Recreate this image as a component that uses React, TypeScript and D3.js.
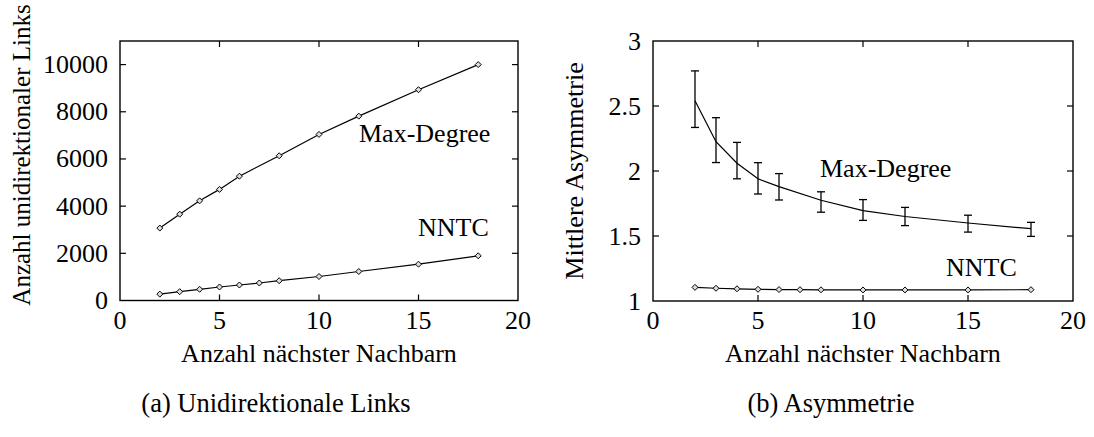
import React from "react";
import * as d3 from "d3";

// ---- data ----
const xMaxDegree = [2, 3, 4, 5, 6, 8, 10, 12, 15, 18];
const xNNTC = [2, 3, 4, 5, 6, 7, 8, 10, 12, 15, 18];

const linksMaxDegree = [3070, 3660, 4225, 4710, 5270, 6135, 7040, 7815, 8935, 10000];
const linksNNTC = [270, 373, 475, 572, 657, 742, 839, 1017, 1229, 1539, 1895];

const asymMaxDegree = [2.54, 2.225, 2.06, 1.94, 1.88, 1.775, 1.695, 1.65, 1.6, 1.556];
const asymMaxDegreeLow = [2.335, 2.065, 1.94, 1.823, 1.777, 1.683, 1.62, 1.58, 1.53, 1.497];
const asymMaxDegreeHigh = [2.77, 2.41, 2.22, 2.064, 1.98, 1.84, 1.78, 1.72, 1.66, 1.605];
const asymNNTC = [1.105, 1.098, 1.094, 1.09, 1.088, 1.087, 1.086, 1.085, 1.085, 1.085, 1.087];

const xTicks = [0, 5, 10, 15, 20];
const linksTicks = [0, 2000, 4000, 6000, 8000, 10000];
const asymTicks = [1, 1.5, 2, 2.5, 3];

const FONT = "Liberation Serif, Tinos, DejaVu Serif, serif";
const FS = 26;
const TICK = 6;

type Series = {
  xs: number[];
  ys: number[];
  markers: boolean;
  low?: number[];
  high?: number[];
};

type Label = { text: string; x: number; y: number };

function Panel(props: {
  left: number;
  right: number;
  top: number;
  bottom: number;
  yDomain: [number, number];
  yTicks: number[];
  series: Series[];
  labels: Label[];
  yTitle: string;
  yTitleX: number;
  yTitleY: number;
  yTitleSize: number;
  caption: string;
  captionX: number;
}) {
  const { left, right, top, bottom } = props;
  const x = d3.scaleLinear().domain([0, 20]).range([left, right]);
  const y = d3.scaleLinear().domain(props.yDomain).range([bottom, top]);
  const line = d3
    .line<[number, number]>()
    .x((d) => x(d[0]))
    .y((d) => y(d[1]));
  const midX = (left + right) / 2;
  const ts = { fontFamily: FONT, fontSize: FS };
  return (
    <g>
      <rect
        x={left}
        y={top}
        width={right - left}
        height={bottom - top}
        fill="none"
        stroke="#000"
        strokeWidth={1.4}
      />
      {xTicks.map((t) => (
        <g key={"xt" + t}>
          {t > 0 && t < 20 && (
            <>
              <line x1={x(t)} x2={x(t)} y1={bottom} y2={bottom - TICK} stroke="#000" strokeWidth={1.2} />
              <line x1={x(t)} x2={x(t)} y1={top} y2={top + TICK} stroke="#000" strokeWidth={1.2} />
            </>
          )}
          <text x={x(t)} y={bottom + 28} textAnchor="middle" style={ts} fill="#000">
            {t}
          </text>
        </g>
      ))}
      {props.yTicks.map((t) => (
        <g key={"yt" + t}>
          {y(t) > top + 1 && y(t) < bottom - 1 && (
            <>
              <line x1={left} x2={left + TICK} y1={y(t)} y2={y(t)} stroke="#000" strokeWidth={1.2} />
              <line x1={right} x2={right - TICK} y1={y(t)} y2={y(t)} stroke="#000" strokeWidth={1.2} />
            </>
          )}
          <text x={left - 12} y={y(t) + 8.5} textAnchor="end" style={ts} fill="#000">
            {String(t)}
          </text>
        </g>
      ))}
      {props.series.map((s, si) => {
        const pts = s.xs.map((v, i) => [v, s.ys[i]] as [number, number]);
        return (
          <g key={"s" + si}>
            <path d={line(pts) || ""} fill="none" stroke="#000" strokeWidth={1.2} />
            {s.low &&
              s.high &&
              s.xs.map((v, i) => (
                <g key={"e" + i}>
                  <line x1={x(v)} x2={x(v)} y1={y(s.low![i])} y2={y(s.high![i])} stroke="#000" strokeWidth={1.3} />
                  <line x1={x(v) - 4} x2={x(v) + 4} y1={y(s.low![i])} y2={y(s.low![i])} stroke="#000" strokeWidth={1.3} />
                  <line x1={x(v) - 4} x2={x(v) + 4} y1={y(s.high![i])} y2={y(s.high![i])} stroke="#000" strokeWidth={1.3} />
                </g>
              ))}
            {s.markers &&
              pts.map((p, i) => {
                const cx = x(p[0]);
                const cy = y(p[1]);
                const r = 3;
                return (
                  <path
                    key={"m" + i}
                    d={`M${cx},${cy - r}L${cx + r},${cy}L${cx},${cy + r}L${cx - r},${cy}Z`}
                    fill="#ddd"
                    stroke="#000"
                    strokeWidth={1}
                  />
                );
              })}
          </g>
        );
      })}
      {props.labels.map((l, i) => (
        <text key={"l" + i} x={l.x} y={l.y} style={ts} fill="#000">
          {l.text}
        </text>
      ))}
      <text x={midX} y={362} textAnchor="middle" style={ts} fill="#000">
        Anzahl nächster Nachbarn
      </text>
      <text
        transform={`translate(${props.yTitleX},${props.yTitleY}) rotate(-90)`}
        textAnchor="middle"
        style={{ fontFamily: FONT, fontSize: props.yTitleSize }}
        fill="#000"
      >
        {props.yTitle}
      </text>
      <text
        x={props.captionX}
        y={412}
        textAnchor="middle"
        style={{ fontFamily: FONT, fontSize: 26.5 }}
        fill="#000"
      >
        {props.caption}
      </text>
    </g>
  );
}

export default function App() {
  return (
    <svg
      width={1094}
      height={437}
      style={{ position: "absolute", left: 0, top: 0, display: "block", background: "#fff" }}
    >
      <rect x={0} y={0} width={1094} height={437} fill="#fff" />
      <Panel
        left={120}
        right={518}
        top={41}
        bottom={300.5}
        yDomain={[0, 11000]}
        yTicks={linksTicks}
        series={[
          { xs: xMaxDegree, ys: linksMaxDegree, markers: true },
          { xs: xNNTC, ys: linksNNTC, markers: true },
        ]}
        labels={[
          { text: "Max-Degree", x: 359, y: 142 },
          { text: "NNTC", x: 418, y: 236 },
        ]}
        yTitle="Anzahl unidirektionaler Links"
        yTitleX={30}
        yTitleY={155}
        yTitleSize={25}
        caption="(a) Unidirektionale Links"
        captionX={276}
      />
      <Panel
        left={653}
        right={1073}
        top={41}
        bottom={301}
        yDomain={[1, 3]}
        yTicks={asymTicks}
        series={[
          {
            xs: xMaxDegree,
            ys: asymMaxDegree,
            markers: false,
            low: asymMaxDegreeLow,
            high: asymMaxDegreeHigh,
          },
          { xs: xNNTC, ys: asymNNTC, markers: true },
        ]}
        labels={[
          { text: "Max-Degree", x: 820, y: 177 },
          { text: "NNTC", x: 946, y: 276 },
        ]}
        yTitle="Mittlere Asymmetrie"
        yTitleX={583}
        yTitleY={171}
        yTitleSize={26}
        caption="(b) Asymmetrie"
        captionX={831}
      />
    </svg>
  );
}
